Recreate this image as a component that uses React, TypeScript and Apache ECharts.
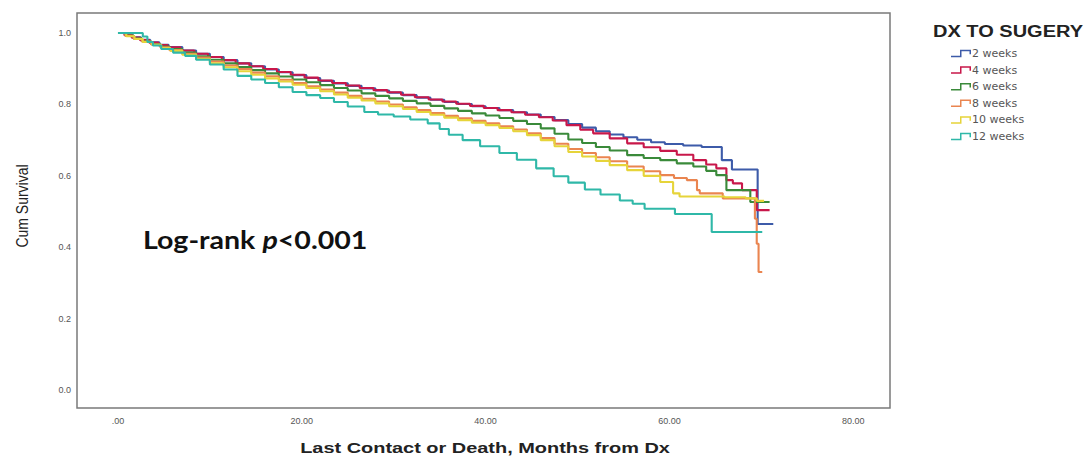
import React, { useEffect, useRef } from "react";
import * as echarts from "echarts";

// [month, cumulative survival] pairs
const weeks2: [number, number][] = [[0,1],[0.8,0.995],[1.6,0.988],[2.5,0.981],[3.5,0.974],[4.5,0.967],[5.5,0.961],[7,0.951],[8.5,0.942],[10,0.933],[11.5,0.924],[13,0.915],[14.5,0.907],[16,0.898],[17.5,0.890],[19,0.882],[20.5,0.874],[22,0.866],[23.5,0.859],[25,0.852],[26.5,0.845],[28,0.839],[29.5,0.833],[31,0.826],[32.5,0.819],[34,0.813],[35.5,0.807],[37,0.801],[38.5,0.795],[40,0.790],[41.5,0.784],[43,0.778],[44.5,0.772],[46,0.765],[47.5,0.756],[49,0.745],[50.5,0.735],[52,0.725],[53.5,0.716],[55,0.708],[56.5,0.701],[58,0.694],[59.5,0.689],[61.5,0.685],[63.5,0.681],[65.7,0.644],[66.8,0.618],[69.6,0.465],[71.3,0.465]];
const weeks4: [number, number][] = [[0,1],[0.7,0.994],[1.5,0.987],[2.4,0.980],[3.4,0.973],[4.4,0.966],[5.4,0.960],[6.8,0.951],[8.3,0.942],[9.8,0.933],[11.3,0.924],[12.8,0.915],[14.3,0.907],[15.8,0.899],[17.3,0.891],[18.8,0.883],[20.3,0.875],[21.8,0.867],[23.3,0.860],[24.8,0.853],[26.3,0.846],[27.8,0.840],[29.3,0.834],[30.8,0.827],[32.3,0.820],[33.8,0.814],[35.3,0.808],[36.8,0.802],[38.3,0.796],[39.8,0.790],[41.3,0.784],[42.8,0.778],[44.3,0.771],[45.8,0.764],[47.3,0.755],[48.8,0.742],[50.3,0.729],[51.7,0.719],[53.5,0.705],[55.4,0.691],[57.2,0.680],[59,0.670],[60.8,0.659],[62.6,0.644],[64,0.632],[65.1,0.621],[66.2,0.588],[66.9,0.579],[67.9,0.560],[69.5,0.504],[70.9,0.504]];
const weeks6: [number, number][] = [[0,1],[0.8,0.993],[1.7,0.985],[2.6,0.977],[3.6,0.969],[4.6,0.962],[5.6,0.955],[7,0.945],[8.5,0.935],[10,0.925],[11.5,0.915],[13,0.905],[14.5,0.896],[16,0.887],[17.5,0.878],[19,0.870],[20.5,0.862],[22,0.854],[23.5,0.846],[25,0.839],[26.5,0.831],[28,0.824],[29.5,0.817],[31,0.810],[32.5,0.803],[34,0.796],[35.5,0.789],[37,0.782],[38.5,0.775],[40,0.769],[41.5,0.762],[43,0.754],[44.5,0.745],[46,0.733],[47.5,0.718],[49,0.702],[50.5,0.692],[52,0.681],[53.5,0.671],[55.4,0.658],[57.2,0.650],[59,0.644],[60.8,0.635],[62.6,0.626],[64,0.614],[65.1,0.602],[66.2,0.560],[68.8,0.527],[70.9,0.527]];
const weeks8: [number, number][] = [[0,1],[0.8,0.992],[1.7,0.984],[2.6,0.976],[3.6,0.968],[4.6,0.960],[5.6,0.952],[7,0.942],[8.5,0.931],[10,0.920],[11.5,0.909],[13,0.899],[14.5,0.889],[16,0.879],[17.5,0.869],[19,0.860],[20.5,0.851],[22,0.842],[23.5,0.833],[25,0.824],[26.5,0.816],[28,0.808],[29.5,0.800],[31,0.792],[32.5,0.784],[34,0.776],[35.5,0.768],[37,0.761],[38.5,0.754],[40,0.747],[41.5,0.739],[43,0.730],[44.5,0.719],[46,0.706],[47.5,0.690],[49,0.675],[50.5,0.664],[52,0.652],[53.5,0.641],[55.4,0.626],[57.2,0.613],[59,0.602],[60.5,0.594],[61.9,0.588],[63,0.560],[63.3,0.551],[65.8,0.537],[69.3,0.48],[69.5,0.41],[69.7,0.331],[70.1,0.331]];
const weeks10: [number, number][] = [[0,1],[0.9,0.991],[1.8,0.983],[2.7,0.975],[3.7,0.967],[4.7,0.958],[5.7,0.950],[7,0.939],[8.5,0.927],[10,0.915],[11.5,0.904],[13,0.893],[14.5,0.883],[16,0.873],[17.5,0.864],[19,0.855],[20.5,0.846],[22,0.837],[23.5,0.828],[25,0.819],[26.5,0.811],[28,0.803],[29.5,0.795],[31,0.787],[32.5,0.779],[34,0.771],[35.5,0.763],[37,0.756],[38.5,0.749],[40,0.742],[41.5,0.734],[43,0.725],[44.5,0.714],[46,0.700],[47.5,0.683],[49,0.667],[50.5,0.654],[52,0.642],[53.5,0.630],[55.4,0.616],[57.2,0.600],[59,0.583],[60.4,0.551],[61.1,0.542],[66,0.540],[68.3,0.537],[69.5,0.530],[70.3,0.530]];
const weeks12: [number, number][] = [[0,1],[2.7,0.99],[3.2,0.975],[3.8,0.965],[4.7,0.955],[6,0.945],[7.3,0.936],[8.5,0.925],[10,0.912],[11.5,0.898],[13,0.880],[14.5,0.870],[16,0.860],[17.5,0.848],[19,0.835],[20.5,0.826],[22,0.818],[23.5,0.807],[25,0.794],[26.8,0.779],[28.3,0.772],[30,0.766],[31.8,0.758],[33.7,0.747],[35,0.731],[36,0.715],[37.5,0.700],[39.4,0.683],[41.5,0.664],[43.4,0.645],[45.5,0.621],[47.4,0.599],[49,0.581],[50.8,0.562],[52.5,0.548],[54.6,0.531],[56,0.522],[57.3,0.508],[60.6,0.493],[64.6,0.443],[70.1,0.443]];

const groupNames = ["2 weeks", "4 weeks", "6 weeks", "8 weeks", "10 weeks", "12 weeks"];
const groupData = [weeks2, weeks4, weeks6, weeks8, weeks10, weeks12];
const groupColors = ["#3d5ba9", "#c8174a", "#3a8a3a", "#ea8550", "#e6d43a", "#2fb8a8"];
const xTicks = [0, 20, 40, 60, 80];
const yTicks = [0, 0.2, 0.4, 0.6, 0.8, 1.0];

const stepIcon =
  "path://M0,6 L9,6 L9,0 L20,0 L20,4.5 L18.5,4.5 L18.5,1.5 L10.5,1.5 L10.5,7.5 L0,7.5 Z";

export default function App() {
  const ref = useRef<HTMLDivElement>(null);
  useEffect(() => {
    if (!ref.current) return;
    const chart = echarts.init(ref.current, null, { renderer: "svg" });
    chart.setOption({
      animation: false,
      backgroundColor: "#ffffff",
      grid: {
        show: true,
        left: 77,
        right: 196,
        top: 13,
        bottom: 52,
        borderColor: "#7a7a7a",
        borderWidth: 1.5,
        backgroundColor: "#ffffff",
      },
      xAxis: {
        type: "value",
        min: -4.46,
        max: 84,
        axisLine: { show: false },
        axisTick: { show: false },
        splitLine: { show: false },
        axisLabel: {
          customValues: xTicks,
          formatter: (v: number) => (v === 0 ? ".00" : v.toFixed(2)),
          fontFamily: "Liberation Sans",
          fontSize: 9,
          color: "#555",
          margin: 8,
        },
      },
      yAxis: {
        type: "value",
        min: -0.05,
        max: 1.056,
        axisLine: { show: false },
        axisTick: { show: false },
        splitLine: { show: false },
        axisLabel: {
          customValues: yTicks,
          formatter: (v: number) => v.toFixed(1),
          fontFamily: "Liberation Sans",
          fontSize: 9,
          color: "#555",
          margin: 6,
        },
      },
      legend: {
        orient: "vertical",
        left: 946,
        top: 43,
        itemWidth: 20,
        itemHeight: 7.5,
        itemGap: 5.6,
        icon: stepIcon,
        textStyle: { fontFamily: "DejaVu Sans", fontSize: 11, color: "#555", padding: [0, 0, 0, -4] },
        data: groupNames,
      },
      graphic: [
        {
          type: "text",
          x: 1008,
          y: 32,
          scaleX: 1.25,
          style: {
            text: "DX TO SUGERY",
            align: "center",
            verticalAlign: "middle",
            font: "bold 16px 'Liberation Sans'",
            fill: "#222",
          },
        },
        {
          type: "text",
          x: 485,
          y: 448,
          scaleX: 1.33,
          style: {
            text: "Last Contact or Death, Months from Dx",
            align: "center",
            verticalAlign: "middle",
            font: "bold 15px 'Liberation Sans'",
            fill: "#222",
          },
        },
        {
          type: "text",
          x: 22,
          y: 206,
          rotation: Math.PI / 2,
          scaleY: 1.2,
          style: {
            text: "Cum Survival",
            align: "center",
            verticalAlign: "middle",
            font: "14px 'Liberation Sans'",
            fill: "#222",
          },
        },
        {
          type: "text",
          x: 143,
          y: 240,
          scaleX: 1.19,
          style: {
            text: "{a|Log-rank }{b|p}{a|<0.001}",
            verticalAlign: "middle",
            rich: {
              a: { fontFamily: "Lato", fontWeight: "bold", fontSize: 24, fill: "#111" },
              b: { fontFamily: "Lato", fontWeight: "bold", fontStyle: "italic", fontSize: 24, fill: "#111" },
            },
          },
        },
      ],
      series: groupNames.map((name, i) => ({
        name,
        type: "line",
        step: "end",
        data: groupData[i],
        showSymbol: false,
        symbol: "none",
        color: groupColors[i],
        lineStyle: { width: 2.1, color: groupColors[i] },
        z: 2 + i,
      })),
    });
    return () => chart.dispose();
  }, []);
  return (
    <div
      ref={ref}
      style={{ position: "fixed", left: 0, top: 0, width: 1086, height: 460, background: "#fff" }}
    />
  );
}
